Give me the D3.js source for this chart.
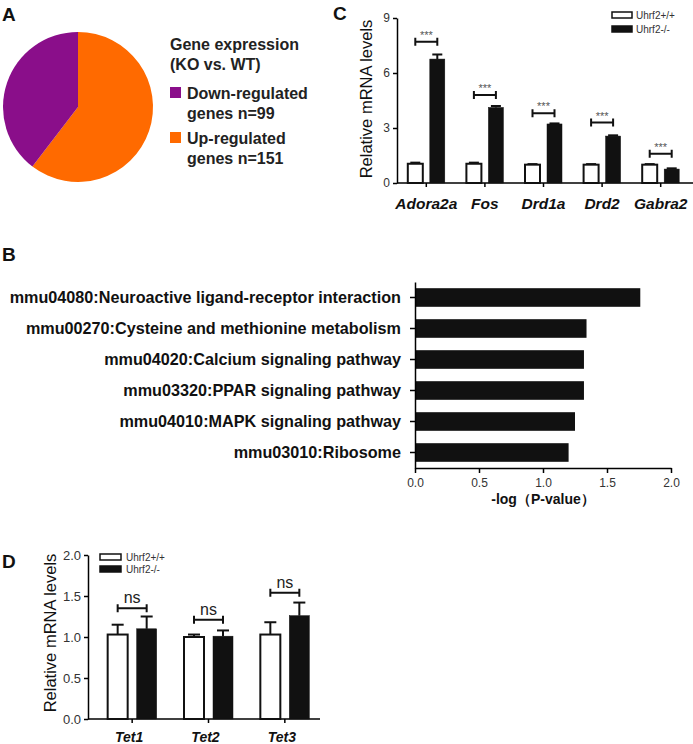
<!DOCTYPE html>
<html><head><meta charset="utf-8">
<script src="https://cdn.jsdelivr.net/npm/d3@7/dist/d3.min.js"></script>
<style>
body{margin:0;background:#fff;}
text{font-family:"Liberation Sans",Arial,sans-serif;}
.tick text{font-family:"Liberation Sans Narrow","Liberation Sans",Arial,sans-serif;}
</style></head>
<body>
<svg id="fig" width="693" height="744"></svg>
<script>
// ---------- Panel A data ----------
const pieCategories = ["Down-regulated", "Up-regulated"];
const pieCounts = [99, 151];
const pieColors = ["#8a0e8a", "#ff6a00"];
const pieLegendTitle = ["Gene expression", "(KO vs. WT)"];

// ---------- Panel B data ----------
const pathways = [
  "mmu04080:Neuroactive ligand-receptor interaction",
  "mmu00270:Cysteine and methionine metabolism",
  "mmu04020:Calcium signaling pathway",
  "mmu03320:PPAR signaling pathway",
  "mmu04010:MAPK signaling pathway",
  "mmu03010:Ribosome"
];
const negLogP = [1.76, 1.34, 1.32, 1.32, 1.25, 1.20];
const bTicks = [0, 0.5, 1.0, 1.5, 2.0];

// ---------- Panel C data ----------
const genesC = ["Adora2a", "Fos", "Drd1a", "Drd2", "Gabra2"];
const wtC = [1.05, 1.05, 1.0, 1.0, 1.0];
const wtErrC = [0.06, 0.06, 0.03, 0.03, 0.03];
const koC = [6.76, 4.12, 3.22, 2.56, 0.76];
const koErrC = [0.25, 0.08, 0.03, 0.04, 0.04];
const sigC = ["***", "***", "***", "***", "***"];
const sigLevelC = [7.7, 4.8, 3.8, 3.3, 1.6];
const cTicks = [0, 3, 6, 9];

// ---------- Panel D data ----------
const genesD = ["Tet1", "Tet2", "Tet3"];
const wtD = [1.03, 1.0, 1.03];
const wtErrD = [0.12, 0.03, 0.15];
const koD = [1.10, 1.01, 1.26];
const koErrD = [0.15, 0.07, 0.16];
const sigD = ["ns", "ns", "ns"];
const sigLevelD = [1.35, 1.21, 1.54];
const dTicks = [0.0, 0.5, 1.0, 1.5, 2.0];

const seriesNames = ["Uhrf2+/+", "Uhrf2-/-"];

const svg = d3.select("#fig");
const ink = "#111";

function panelLetter(t, x, y) {
  svg.append("text").attr("x", x).attr("y", y).text(t)
    .attr("font-size", 19).attr("font-weight", "bold").attr("fill", ink);
}

// ================= Panel A =================
panelLetter("A", 2, 21);
const pie = d3.pie().sort(null).value(d => d.v).startAngle(0).endAngle(2 * Math.PI);
const pieData = pie([{k: pieCategories[1], v: pieCounts[1], c: pieColors[1]},
                     {k: pieCategories[0], v: pieCounts[0], c: pieColors[0]}]);
const arc = d3.arc().innerRadius(0).outerRadius(75);
const gA = svg.append("g").attr("transform", "translate(78,107)");
gA.selectAll("path").data(pieData).join("path").attr("d", arc).attr("fill", d => d.data.c);

const legA = svg.append("g").attr("transform", "translate(170,0)");
legA.selectAll("text.title").data(pieLegendTitle).join("text").attr("class", "title")
  .attr("x", 0).attr("y", (d, i) => 50 + i * 20).text(d => d)
  .attr("font-size", 16).attr("fill", "#222").attr("font-weight", "bold");
pieCategories.forEach((c, i) => {
  const y0 = 87 + i * 45;
  legA.append("rect").attr("x", 0).attr("y", y0).attr("width", 11).attr("height", 11)
    .attr("fill", pieColors[i]);
  legA.append("text").attr("x", 17).attr("y", y0 + 12).text(c)
    .attr("font-size", 16).attr("fill", "#222").attr("font-weight", "bold");
  legA.append("text").attr("x", 17).attr("y", y0 + 32).text("genes n=" + pieCounts[i])
    .attr("font-size", 16).attr("fill", "#222").attr("font-weight", "bold");
});

// ================= Panel C =================
panelLetter("C", 333, 20);
const yC = d3.scaleLinear().domain([0, 9]).range([183, 18]);
const xC = d3.scaleBand().domain(genesC).range([397, 690]).padding(0);
const bwC = 15, gapC = 3.5;

svg.append("g").attr("transform", "translate(397,0)")
  .call(d3.axisLeft(yC).tickValues(cTicks).tickSize(4).tickSizeOuter(0).tickFormat(d3.format("d")))
  .call(g => g.select(".domain").attr("stroke-width", 1.5))
  .call(g => g.selectAll(".tick line").attr("stroke-width", 1.5))
  .call(g => g.selectAll(".tick text").attr("font-size", 12).attr("fill", "#333"));

svg.append("g").attr("transform", "translate(0,183)")
  .call(d3.axisBottom(xC).tickSize(4).tickSizeOuter(0).tickFormat(""))
  .call(g => g.select(".domain").attr("stroke-width", 1.5).attr("d", "M397,0H693"))
  .call(g => g.selectAll(".tick line").attr("stroke-width", 1.5));

svg.append("g").selectAll("text").data(genesC).join("text")
  .attr("x", d => xC(d) + xC.bandwidth() / 2).attr("y", 209)
  .attr("text-anchor", "middle").text(d => d)
  .attr("font-size", 15.5).attr("font-weight", "bold").attr("font-style", "italic").attr("fill", ink);

svg.append("text").attr("transform", "translate(372,99) rotate(-90)")
  .attr("text-anchor", "middle").text("Relative mRNA levels")
  .attr("font-size", 16.5).attr("fill", ink);

function drawGroupBars(g, cats, xs, ys, vals, errs, bw, gap, isKO, capW) {
  cats.forEach((c, i) => {
    const cx = xs(c) + xs.bandwidth() / 2;
    const x0 = isKO ? cx + gap : cx - gap - bw;
    const mid = x0 + bw / 2;
    g.append("line").attr("x1", mid).attr("x2", mid)
      .attr("y1", ys(vals[i])).attr("y2", ys(vals[i] + errs[i]))
      .attr("stroke", ink).attr("stroke-width", 2);
    g.append("line").attr("x1", mid - capW / 2).attr("x2", mid + capW / 2)
      .attr("y1", ys(vals[i] + errs[i])).attr("y2", ys(vals[i] + errs[i]))
      .attr("stroke", ink).attr("stroke-width", 2);
    g.append("rect").attr("x", x0).attr("y", ys(vals[i]))
      .attr("width", bw).attr("height", ys(0) - ys(vals[i]))
      .attr("fill", isKO ? ink : "#fff").attr("stroke", ink).attr("stroke-width", isKO ? 0.5 : 2);
  });
}
const gC = svg.append("g");
drawGroupBars(gC, genesC, xC, yC, wtC, wtErrC, bwC, gapC, false, 10);
drawGroupBars(gC, genesC, xC, yC, koC, koErrC, bwC, gapC, true, 10);

function drawBrackets(g, cats, xs, ys, levels, labels, bw, gap, fs, fill, capH, dy) {
  cats.forEach((c, i) => {
    const cx = xs(c) + xs.bandwidth() / 2;
    const xa = cx - gap - bw / 2, xb = cx + gap + bw / 2;
    const y = ys(levels[i]);
    g.append("path").attr("d", `M${xa},${y - capH / 2}V${y + capH / 2}M${xa},${y}H${xb}M${xb},${y - capH / 2}V${y + capH / 2}`)
      .attr("stroke", ink).attr("stroke-width", 2).attr("fill", "none");
    g.append("text").attr("x", (xa + xb) / 2).attr("y", y - dy).attr("text-anchor", "middle")
      .text(labels[i]).attr("font-size", fs).attr("fill", fill);
  });
}
drawBrackets(gC, genesC, xC, yC, sigLevelC, sigC, bwC, gapC, 11, "#555", 8, 3);

const legC = svg.append("g").attr("transform", "translate(612,12)");
seriesNames.forEach((s, i) => {
  legC.append("rect").attr("x", 0).attr("y", i * 14).attr("width", 20).attr("height", 6)
    .attr("fill", i ? ink : "#fff").attr("stroke", ink).attr("stroke-width", 1.5);
  legC.append("text").attr("x", 24).attr("y", i * 14 + 7).text(s)
    .attr("font-size", 10).attr("fill", "#333")
    .style("font-family", '"Liberation Sans Narrow","Liberation Sans",Arial,sans-serif');
});

// ================= Panel B =================
panelLetter("B", 2, 261);
const xB = d3.scaleLinear().domain([0, 2]).range([415, 671]);
const yB = d3.scaleBand().domain(pathways).range([282, 468]).paddingInner(0.4).paddingOuter(0.2);
svg.append("g").selectAll("rect").data(pathways).join("rect")
  .attr("x", xB(0)).attr("y", d => yB(d))
  .attr("width", (d, i) => xB(negLogP[i]) - xB(0)).attr("height", yB.bandwidth())
  .attr("fill", ink);
svg.append("g").attr("transform", "translate(415,0)")
  .call(d3.axisLeft(yB).tickSize(5).tickSizeOuter(0).tickFormat(""))
  .call(g => g.select(".domain").attr("stroke-width", 1.5))
  .call(g => g.selectAll(".tick line").attr("stroke-width", 1.5));
svg.append("g").selectAll("text").data(pathways).join("text")
  .attr("x", 401).attr("y", d => yB(d) + yB.bandwidth() / 2 + 5.5)
  .attr("text-anchor", "end").text(d => d)
  .attr("font-size", 16.2).attr("font-weight", "bold").attr("fill", ink);
svg.append("g").attr("transform", "translate(0,468)")
  .call(d3.axisBottom(xB).tickValues(bTicks).tickSize(5).tickSizeOuter(0).tickFormat(d3.format(".1f")))
  .call(g => g.select(".domain").attr("stroke-width", 1.5))
  .call(g => g.selectAll(".tick line").attr("stroke-width", 1.5))
  .call(g => g.selectAll(".tick text").attr("font-size", 12).attr("fill", "#333").attr("dy", "0.9em"));
svg.append("text").attr("x", 543).attr("y", 504).attr("text-anchor", "middle")
  .text("-log（P-value）").attr("font-size", 14).attr("font-weight", "bold").attr("fill", ink);

// ================= Panel D =================
panelLetter("D", 2, 568);
const yD = d3.scaleLinear().domain([0, 2]).range([719, 555]);
const xD = d3.scaleBand().domain(genesD).range([94, 323]).padding(0);
const bwD = 20, gapD = 4.5;

svg.append("g").attr("transform", "translate(88,0)")
  .call(d3.axisLeft(yD).tickValues(dTicks).tickSize(4).tickSizeOuter(0).tickFormat(d3.format(".1f")))
  .call(g => g.select(".domain").attr("stroke-width", 1.5))
  .call(g => g.selectAll(".tick line").attr("stroke-width", 1.5))
  .call(g => g.selectAll(".tick text").attr("font-size", 13).attr("fill", "#333"));
svg.append("g").attr("transform", "translate(0,719)")
  .call(d3.axisBottom(xD).tickSize(4).tickSizeOuter(0).tickFormat(""))
  .call(g => g.select(".domain").attr("stroke-width", 1.5).attr("d", "M88,0H320"))
  .call(g => g.selectAll(".tick line").attr("stroke-width", 1.5));
svg.append("g").selectAll("text").data(genesD).join("text")
  .attr("x", d => xD(d) + xD.bandwidth() / 2 - 3).attr("y", 742)
  .attr("text-anchor", "middle").text(d => d)
  .attr("font-size", 14).attr("font-weight", "bold").attr("font-style", "italic").attr("fill", ink);
svg.append("text").attr("transform", "translate(56,633) rotate(-90)")
  .attr("text-anchor", "middle").text("Relative mRNA levels")
  .attr("font-size", 16.5).attr("fill", ink);

const gD = svg.append("g");
drawGroupBars(gD, genesD, xD, yD, wtD, wtErrD, bwD, gapD, false, 12);
drawGroupBars(gD, genesD, xD, yD, koD, koErrD, bwD, gapD, true, 12);
drawBrackets(gD, genesD, xD, yD, sigLevelD, sigD, bwD, gapD, 16, "#222", 8, 5);

const legD = svg.append("g").attr("transform", "translate(100,554)");
seriesNames.forEach((s, i) => {
  legD.append("rect").attr("x", 0).attr("y", i * 12).attr("width", 21).attr("height", 6)
    .attr("fill", i ? ink : "#fff").attr("stroke", ink).attr("stroke-width", 1.5);
  legD.append("text").attr("x", 26).attr("y", i * 12 + 7).text(s)
    .attr("font-size", 10).attr("fill", "#333")
    .style("font-family", '"Liberation Sans Narrow","Liberation Sans",Arial,sans-serif');
});
</script>
</body></html>
